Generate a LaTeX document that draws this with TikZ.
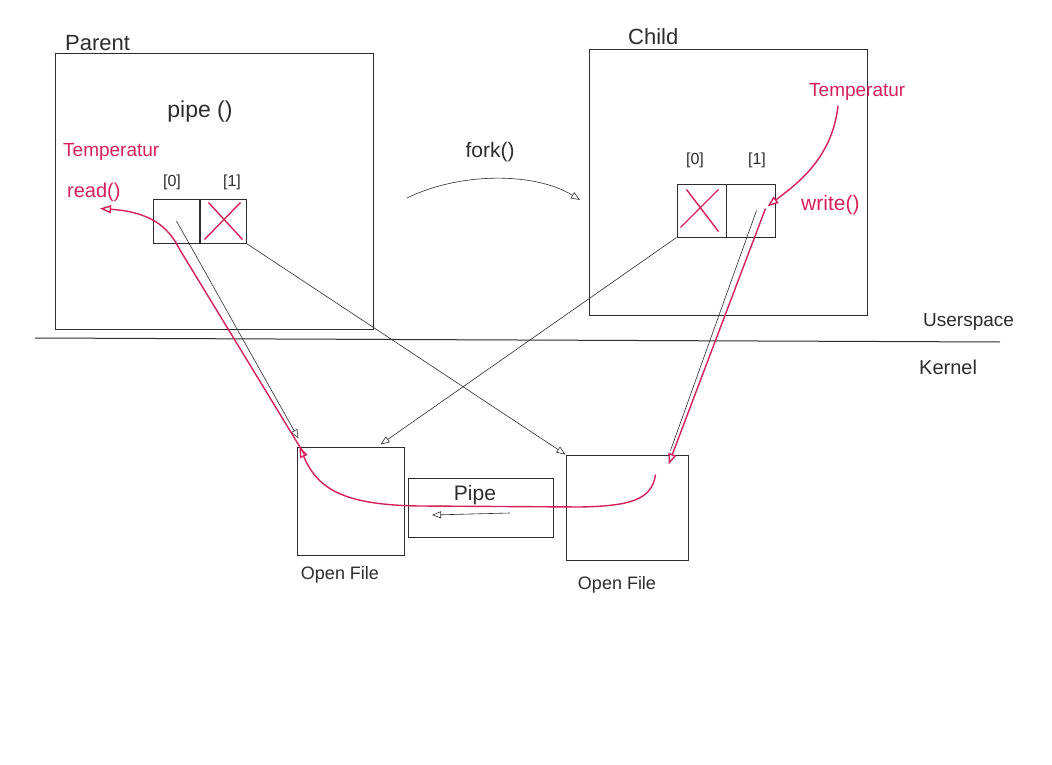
\documentclass[tikz,border=0pt]{standalone}
\usepackage{fontspec}
\setmainfont{Liberation Sans}
\usetikzlibrary{arrows.meta,calc}
\definecolor{pen}{RGB}{45,45,45}
\definecolor{redpen}{RGB}{214,32,88}
\begin{document}
\begin{tikzpicture}[x=1pt,y=-1pt,
  box/.style={draw=pen,line width=1pt,inner sep=0pt},
  cell/.style={draw=pen,line width=1pt,inner sep=0pt,minimum height=44,minimum width=47},
  lbl/.style={text=pen,inner sep=1pt,font=\fontsize{21}{23}\selectfont},
  small/.style={text=pen,inner sep=1pt,font=\fontsize{16}{18}\selectfont},
  rlbl/.style={text=redpen,inner sep=1pt,font=\fontsize{19}{21}\selectfont},
  link/.style={draw=pen,line width=0.6pt,-{Triangle[open,length=9pt,width=7pt]}},
  redlink/.style={draw=redpen,line width=1.4pt,-{Triangle[length=11pt,width=8pt,fill=white]}},
  cross/.style={draw=redpen,line width=1.4pt}]
\useasboundingbox (0,0) rectangle (1052,765);
\fill[white] (0,0) rectangle (1052,765);

% process boxes
\node[box,minimum width=318,minimum height=275] (parent) at (214,191.5) {};
\node[box,minimum width=278,minimum height=265] (child) at (728,182.5) {};
\node[lbl,font=\fontsize{22}{24}\selectfont,anchor=south west] (parentlbl) at (64,52) {Parent};
\node[lbl,font=\fontsize{22}{24}\selectfont,anchor=south west] (childlbl) at (627,46) {Child};

% userspace / kernel separator
\coordinate (sepL) at (35,338);
\coordinate (sepR) at (1000,342);
\draw[pen,line width=1pt] (sepL) -- (sepR);
\node[small,font=\fontsize{19}{21}\selectfont,anchor=west] (user) at (922,322) {Userspace};
\node[small,font=\fontsize{20}{22}\selectfont,anchor=west] (kern) at (918,367) {Kernel};

% parent contents
\node[lbl,font=\fontsize{23}{25}\selectfont] (pipecall) at (200,112) {pipe ()};
\node[rlbl,anchor=west] (ptemp) at (62,152) {Temperatur};
\node[rlbl,font=\fontsize{20}{22}\selectfont,anchor=west] (read) at (66,192) {read()};
\node[cell] (p0) at (176.5,221) {};
\node[cell] (p1) at (222.5,221) {};
\node[small] (p0lbl) at (172,182) {[0]};
\node[small] (p1lbl) at (232,182) {[1]};
\draw[cross] ($(p1.north west)+(10,4)$) -- ($(p1.south east)+(-4,-4)$);
\draw[cross] ($(p1.north east)+(-6,4)$) -- ($(p1.south west)+(6,-4)$);

% fork
\node[lbl] (fork) at (490,152) {fork()};
\coordinate (forkA) at (407,198);
\coordinate (forkB) at (580,200);
\draw[link] (forkA) .. controls (460,172) and (535,172) .. (forkB);

% child contents
\node[cell,minimum width=49,minimum height=53] (c0) at (701.5,210.5) {};
\node[cell,minimum width=49,minimum height=53] (c1) at (750.5,210.5) {};
\node[small] (c0lbl) at (695,160) {[0]};
\node[small] (c1lbl) at (757,160) {[1]};
\draw[cross] ($(c0.north west)+(10,6)$) -- ($(c0.south east)+(-8,-6)$);
\draw[cross] ($(c0.north east)+(-8,6)$) -- ($(c0.south west)+(4,-10)$);
\node[rlbl,anchor=west] (ctemp) at (808,92) {Temperatur};
\node[rlbl,font=\fontsize{21}{23}\selectfont,anchor=west] (write) at (800,205) {write()};

% kernel objects
\node[box,minimum width=107,minimum height=108] (of1) at (350.5,501) {};
\node[box,minimum width=122,minimum height=105] (of2) at (627,507.5) {};
\node[small,font=\fontsize{18}{20}\selectfont] (of1lbl) at (340,575) {Open File};
\node[small,font=\fontsize{18}{20}\selectfont] (of2lbl) at (617,585) {Open File};
\node[box,minimum width=145,minimum height=59] (pipe) at (480.5,507.5) {};
\node[lbl] (pipelbl) at (475,495) {Pipe};
\coordinate (pipeA) at (510,513);
\coordinate (pipeB) at (432,515);
\draw[link] (pipeA) -- (pipeB);

% black fd links
\draw[link] (p0.center) -- ($(of1.north west)+(2,-8)$);
\draw[link] (p1.south east) -- (of2.north west);
\draw[link] (c0.south west) -- ($(of1.north east)+(-24,-2)$);
\draw[pen,line width=0.6pt] ($(c1.center)+(6,0)$) -- ($(of2.north east)+(-18,-4)$);

% red data flow
\draw[redlink] ($(ctemp.south west)+(30,4)$) .. controls (832,160) and (795,185) .. ($(c1.east)+(-8,-4)$);
\draw[redlink] ($(c1.east)+(-10,-2)$) -- ($(of2.north east)+(-20,10)$);
\draw[redlink] ($(of2.north east)+(-33,20)$) .. controls (652,500) and (630,506) .. (580,507)
   -- (420,506) .. controls (345,505) and (318,490) .. ($(of1.north west)+(3,0)$);
\draw[redlink] ($(of1.north west)+(8,8)$) -- (180,250) .. controls (168,226) and (150,212) .. ($(read.south west)+(34,6)$);
\end{tikzpicture}
\end{document}
